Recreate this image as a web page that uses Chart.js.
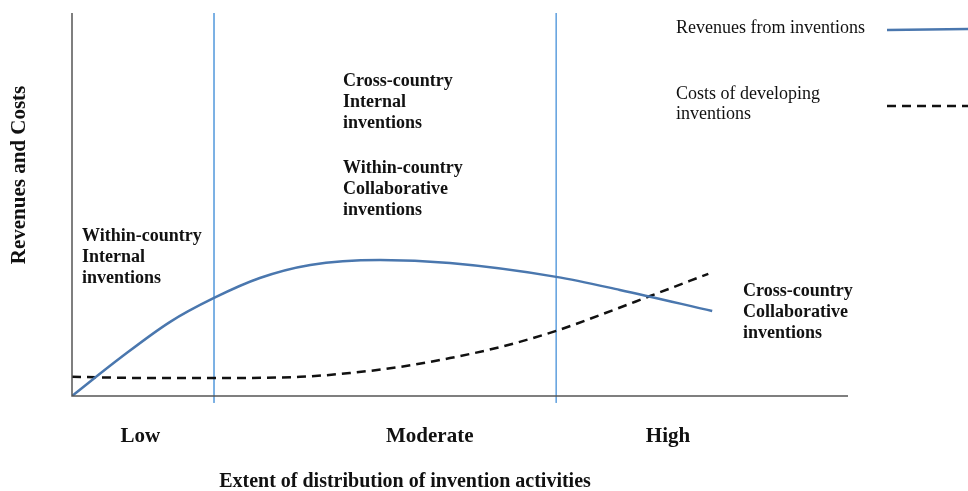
<!DOCTYPE html>
<html>
<head>
<meta charset="utf-8">
<script src="https://cdn.jsdelivr.net/npm/chart.js@4/dist/chart.umd.min.js"></script>
<style>
  html, body { margin: 0; padding: 0; background: #fff; }
  #wrap { width: 968px; height: 491px; }
</style>
</head>
<body>
<div id="wrap"><canvas id="chart"></canvas></div>
<script>
// x: extent of distribution (0-100), y: revenues / costs (0-100)
const revenueX = [0, 6.2, 12.6, 18.3, 24.2, 30.7, 39.7, 48.7, 62.4, 70.6, 82.5];
const revenueY = [0, 9.9, 19.3, 25.6, 30.8, 34.2, 35.5, 34.7, 31.1, 27.7, 22.2];
const costX = [0, 10.1, 18.3, 29.4, 35.8, 42.3, 48.7, 55.2, 62.4, 68.0, 74.5, 82.0];
const costY = [5.0, 4.7, 4.7, 5.0, 6.0, 7.6, 9.9, 12.8, 17.0, 21.1, 26.1, 31.9];
const dividerX = [18.3, 62.4];
const tickLabels = ['Low', 'Moderate', 'High'];
const tickX = [8.8, 46.1, 76.8];
const seriesNames = ['Revenues from inventions', 'Costs of developing inventions'];

const serif = '"Liberation Serif", "Times New Roman", serif';
const revColor = '#4a77ae';

const pts = (xs, ys) => xs.map((x, i) => ({ x: x, y: ys[i] }));

const dividers = dividerX.map(x => ({
    data: [{ x: x, y: 100 }, { x: x, y: -1.8 }],
    borderColor: '#6aa6e0',
    borderWidth: 1,
    pointRadius: 0,
    clip: false,
    tension: 0
}));

const textPlugin = {
    id: 'texts',
    afterDraw(chart) {
        const c = chart.ctx;
        const a = chart.chartArea;
        const xs = chart.scales.x;
        c.save();
        // axes
        c.strokeStyle = '#555';
        c.lineWidth = 1.5;
        c.beginPath();
        c.moveTo(a.left, a.top);
        c.lineTo(a.left, a.bottom);
        c.lineTo(a.right, a.bottom);
        c.stroke();

        c.fillStyle = '#111';
        c.textBaseline = 'middle';
        c.font = 'bold 21px ' + serif;
        c.textAlign = 'center';
        tickLabels.forEach((t, i) => c.fillText(t, xs.getPixelForValue(tickX[i]), 437));
        c.font = 'bold 20px ' + serif;
        c.fillText('Extent of distribution of invention activities', 405, 482);

        c.save();
        c.translate(20, 175);
        c.rotate(-Math.PI / 2);
        c.font = 'bold 21px ' + serif;
        c.fillText('Revenues and Costs', 0, 0);
        c.restore();

        c.textAlign = 'left';
        c.font = 'bold 18px ' + serif;
        const block = (lines, x, y) => lines.forEach((l, i) => c.fillText(l, x, y + i * 21));
        block(['Within-country', 'Internal', 'inventions'], 82, 236);
        block(['Cross-country', 'Internal', 'inventions'], 343, 81);
        block(['Within-country', 'Collaborative', 'inventions'], 343, 168);
        block(['Cross-country', 'Collaborative', 'inventions'], 743, 291);

        // legend
        c.font = '18px ' + serif;
        c.fillText(seriesNames[0], 676, 28);
        c.fillText('Costs of developing', 676, 94);
        c.fillText('inventions', 676, 114);
        c.lineWidth = 2.5;
        c.strokeStyle = revColor;
        c.beginPath();
        c.moveTo(887, 30);
        c.lineTo(968, 29);
        c.stroke();
        c.strokeStyle = '#111';
        c.setLineDash([9, 6]);
        c.beginPath();
        c.moveTo(887, 106);
        c.lineTo(968, 106);
        c.stroke();
        c.restore();
    }
};

new Chart(document.getElementById('chart'), {
    type: 'line',
    data: {
        datasets: [
            {
                label: seriesNames[0],
                data: pts(revenueX, revenueY),
                borderColor: revColor,
                borderWidth: 2.5,
                pointRadius: 0,
                cubicInterpolationMode: 'monotone'
            },
            {
                label: seriesNames[1],
                data: pts(costX, costY),
                borderColor: '#111',
                borderWidth: 2.5,
                borderDash: [9, 6],
                pointRadius: 0,
                cubicInterpolationMode: 'monotone'
            },
            ...dividers
        ]
    },
    options: {
        responsive: true,
        maintainAspectRatio: false,
        animation: false,
        layout: { padding: { left: 72, right: 120, top: 13, bottom: 95 } },
        scales: {
            x: { type: 'linear', min: 0, max: 100, display: false },
            y: { min: 0, max: 100, display: false }
        },
        plugins: {
            legend: { display: false },
            tooltip: { enabled: false }
        }
    },
    plugins: [textPlugin]
});
</script>
</body>
</html>
